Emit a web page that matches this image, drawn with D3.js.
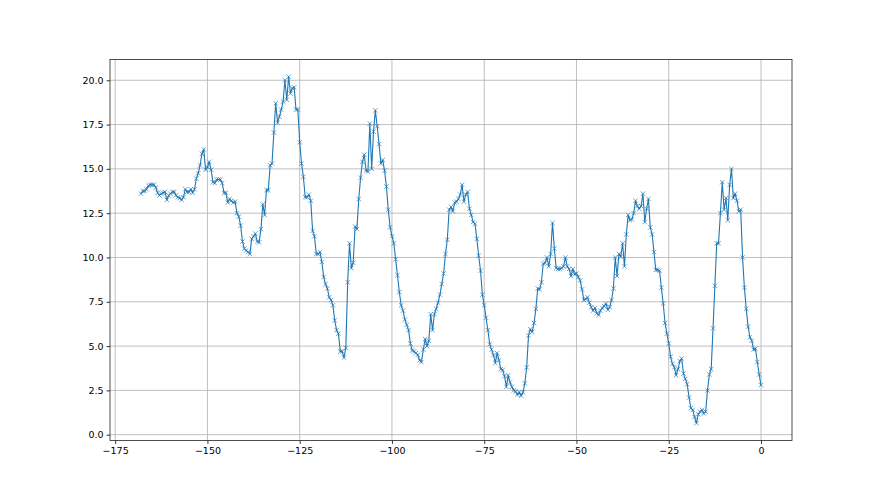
<!DOCTYPE html>
<html>
<head>
<meta charset="utf-8">
<script src="https://cdn.jsdelivr.net/npm/d3@7"></script>
<style>
  html, body { margin: 0; padding: 0; background: #fff; }
  #chart { width: 880px; height: 495px; }
  text { font-family: 'DejaVu Sans', sans-serif; }
</style>
</head>
<body>
<div id="chart"><svg></svg></div>
<script>
// Time offsets, -168 .. 0 in steps of 0.5
const start = -168
const step = 0.5

const values = [
  13.6, 13.75, 13.75, 13.85, 14.05, 14.1, 14.1, 14.1, 13.95, 13.65,
  13.5, 13.6, 13.65, 13.7, 13.25, 13.5, 13.6, 13.7, 13.7, 13.5,
  13.4, 13.35, 13.25, 13.4, 13.85, 13.7, 13.7, 13.85, 13.65, 13.85,
  14.45, 14.75, 15.2, 15.85, 16.1, 14.95, 15.1, 15.4, 14.95, 14.25,
  14.2, 14.4, 14.4, 14.4, 14.2, 13.65, 13.65, 13.1, 13.3, 13.2,
  13.1, 13.15, 12.5, 12.3, 11.8, 10.9, 10.5, 10.4, 10.3, 10.2,
  11.05, 11.2, 11.35, 10.9, 10.85, 11.6, 13.0, 12.4, 13.8, 13.8,
  15.2, 15.3, 17.05, 18.7, 17.6, 17.95, 18.35, 18.8, 20.0, 18.9,
  20.2, 19.25, 19.55, 19.6, 18.35, 18.35, 16.5, 15.3, 14.55, 13.4,
  13.4, 13.55, 13.2, 11.5, 11.2, 10.2, 10.2, 10.3, 9.75, 8.9,
  8.5, 8.25, 7.75, 7.6, 7.3, 6.45, 5.9, 5.7, 4.7, 4.7,
  4.35, 4.9, 8.6, 10.8, 9.4, 9.7, 11.75, 11.6, 13.3, 14.5,
  15.4, 15.8, 14.9, 14.85, 17.55, 15.0, 17.1, 18.3, 17.4, 16.4,
  15.3, 15.5, 14.9, 14.0, 12.7, 11.7, 11.2, 10.8, 9.9, 9.0,
  8.05, 7.3, 7.0, 6.5, 6.2, 5.9, 5.15, 4.75, 4.7, 4.6,
  4.5, 4.2, 4.1, 4.8, 5.4, 5.0, 5.3, 6.8, 5.9, 6.8,
  7.1, 7.45, 7.9, 8.5, 9.1, 10.2, 11.0, 12.7, 12.85, 12.6,
  13.1, 13.15, 13.3, 13.55, 14.1, 13.15, 13.55, 13.7, 12.75, 12.4,
  12.0, 11.9, 11.05, 10.1, 9.25, 7.9, 7.3, 6.6, 5.9, 5.1,
  4.8, 4.5, 4.05, 4.6, 4.2, 3.7, 3.65, 3.3, 2.7, 3.35,
  2.95, 2.7, 2.5, 2.45, 2.25, 2.4, 2.2, 2.4, 2.9, 3.8,
  5.6, 5.95, 5.8, 6.3, 7.1, 8.25, 8.2, 8.6, 9.65, 9.7,
  10.0, 9.5, 10.2, 11.95, 10.5, 9.4, 9.35, 9.35, 9.4, 9.5,
  10.0, 9.5, 9.35, 8.95, 9.35, 9.05, 9.1, 8.9, 8.7, 8.2,
  7.6, 7.65, 7.75, 7.45, 7.2, 7.0, 7.15, 6.85, 6.75, 7.0,
  7.15, 7.25, 7.4, 7.05, 7.2, 7.6, 8.25, 10.0, 8.95, 10.2,
  10.05, 10.8, 9.5, 11.3, 12.4, 12.1, 12.15, 12.5, 13.2, 12.9,
  12.75, 12.9, 13.6, 12.0, 12.75, 13.3, 11.7, 11.3, 10.3, 9.3,
  9.3, 9.25, 8.3, 7.4, 6.3, 5.7, 5.15, 4.4, 4.0, 3.8,
  3.35, 3.7, 4.15, 4.3, 3.45, 3.15, 2.85, 2.1, 1.5, 1.4,
  1.0, 0.65, 1.15, 1.3, 1.4, 1.2, 1.3, 2.5, 3.4, 3.7,
  6.0, 8.4, 10.8, 10.8, 12.5, 14.25, 12.7, 13.35, 12.1, 14.1,
  15.0, 13.35, 13.6, 13.2, 12.6, 12.7, 10.0, 8.3, 7.1, 6.1,
  5.5, 5.3, 4.8, 4.85, 4.1, 3.4, 2.8
]

const xTicks = [-175, -150, -125, -100, -75, -50, -25, 0]
const yTicks = [0, 2.5, 5, 7.5, 10, 12.5, 15, 17.5, 20]

const data = values.map((v, i) => ({ t: start + i * step, v: v }))

// Setting dimensions (matplotlib default subplot box)
const W = 880, H = 495
const margin = { top: 59.4, right: 88, bottom: 54.5, left: 110 }
const width = W - margin.left - margin.right
const height = H - margin.top - margin.bottom

const svg = d3.select('#chart svg')
  .attr('width', W)
  .attr('height', H)

const g = svg.append('g')
  .attr('transform', 'translate(' + margin.left + ',' + margin.top + ')')

// scales with 5% padding like matplotlib autoscale
const xExt = d3.extent(data, d => d.t)
const yExt = d3.extent(data, d => d.v)
const xPad = (xExt[1] - xExt[0]) * 0.05
const yPad = (yExt[1] - yExt[0]) * 0.05

const x = d3.scaleLinear()
  .domain([xExt[0] - xPad, xExt[1] + xPad])
  .range([0, width])

const y = d3.scaleLinear()
  .domain([yExt[0] - yPad, yExt[1] + yPad])
  .range([height, 0])

const minus = n => String(n).replace('-', '\u2212')

// grid
g.append('g')
  .selectAll('line')
  .data(xTicks)
  .join('line')
    .attr('x1', d => x(d)).attr('x2', d => x(d))
    .attr('y1', 0).attr('y2', height)
    .attr('stroke', '#b0b0b0')
    .attr('stroke-width', 0.8)

g.append('g')
  .selectAll('line')
  .data(yTicks)
  .join('line')
    .attr('x1', 0).attr('x2', width)
    .attr('y1', d => y(d)).attr('y2', d => y(d))
    .attr('stroke', '#b0b0b0')
    .attr('stroke-width', 0.8)

// axes
const xAxis = g.append('g')
  .attr('transform', 'translate(0,' + height + ')')
  .call(d3.axisBottom(x).tickValues(xTicks).tickFormat(minus).tickSize(3.4).tickPadding(3))

const yAxis = g.append('g')
  .call(d3.axisLeft(y).tickValues(yTicks).tickFormat(d3.format('.1f')).tickSize(3.4).tickPadding(3))

;[xAxis, yAxis].forEach(a => {
  a.select('.domain').remove()
  a.selectAll('line').attr('stroke', '#000').attr('stroke-width', 0.8)
  a.selectAll('text')
    .attr('fill', '#000')
    .style('font-family', "'DejaVu Sans', sans-serif")
    .style('font-size', '9.5px')
})

// frame
g.append('rect')
  .attr('width', width)
  .attr('height', height)
  .attr('fill', 'none')
  .attr('stroke', '#222')
  .attr('stroke-width', 0.8)

// Draw line
g.append('path')
  .datum(data)
  .attr('fill', 'none')
  .attr('stroke', '#1f77b4')
  .attr('stroke-width', 1.1)
  .attr('stroke-linejoin', 'round')
  .attr('d', d3.line()
    .x(d => x(d.t))
    .y(d => y(d.v)))

// x markers
const s = 2.2
g.append('g')
  .selectAll('path')
  .data(data)
  .join('path')
    .attr('transform', d => 'translate(' + x(d.t) + ',' + y(d.v) + ')')
    .attr('d', 'M' + (-s) + ',' + (-s) + 'L' + s + ',' + s + 'M' + (-s) + ',' + s + 'L' + s + ',' + (-s))
    .attr('stroke', '#1f77b4')
    .attr('stroke-opacity', 0.85)
    .attr('stroke-width', 0.8)
    .attr('fill', 'none')
</script>
</body>
</html>
